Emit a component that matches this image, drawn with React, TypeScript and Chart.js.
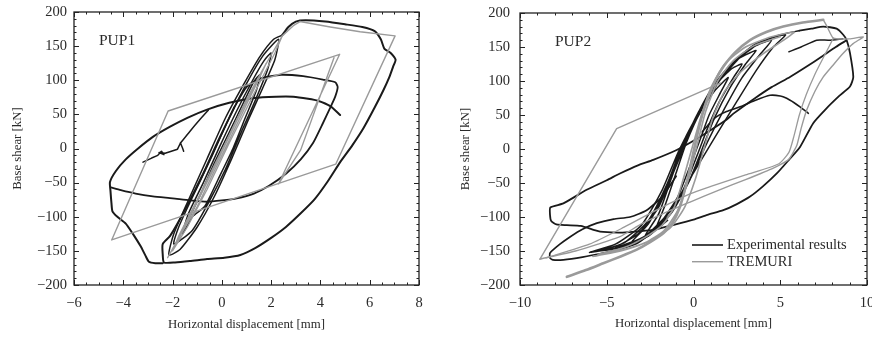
import React, { useEffect, useRef } from "react";
import { Chart, registerables } from "chart.js";
Chart.register(...registerables);

type Pt = [number, number];

const SERIF = "'Liberation Serif', 'Times New Roman', 'DejaVu Serif', serif";
const BLACK = "#1a1a1a";
const GRAY = "#9a9a9a";
const TEXT = "#2a2a2a";

// ---------- PUP1 ----------
const p1XTicks = [-6, -4, -2, 0, 2, 4, 6, 8];
const p1YTicks = [-200, -150, -100, -50, 0, 50, 100, 150, 200];

const p1ExpBand: Pt[] = [
  [-1.3, -100], [-0.9, -70], [-0.35, -25], [0.25, 20], [0.85, 65], [1.3, 98], [1.55, 108],
  [1.4, 85], [0.95, 45], [0.45, 0], [-0.15, -45], [-0.7, -85], [-1.2, -100],
  [-1.6, -125], [-1.35, -95], [-0.75, -50], [-0.1, 2], [0.6, 55], [1.25, 100], [1.7, 128], [2.0, 140],
  [1.85, 115], [1.35, 70], [0.8, 25], [0.15, -30], [-0.55, -80], [-1.2, -120], [-1.95, -140],
  [-1.75, -115], [-1.15, -68], [-0.45, -15], [0.3, 45], [1.0, 95], [1.65, 135], [2.3, 160],
  [2.15, 130], [1.65, 88], [1.05, 40], [0.4, -15], [-0.3, -70], [-1.0, -115], [-1.7, -148], [-2.15, -156],
  [-1.95, -125], [-1.35, -75], [-0.6, -15], [0.15, 45], [0.9, 95], [1.55, 135], [2.1, 160], [2.45, 166],
];
const p1ExpOuter: Pt[] = [
  [2.45, 166], [2.7, 178], [3.0, 186], [3.4, 188], [4.2, 186], [5.0, 182], [5.7, 178], [6.2, 172],
  [6.45, 160], [6.6, 146], [6.85, 140], [7.05, 130], [6.95, 120], [6.8, 105], [6.55, 85], [6.2, 60],
  [5.75, 30], [5.3, 5], [4.8, -20], [4.3, -48], [3.75, -75], [3.2, -95], [2.6, -115], [2.0, -131],
  [1.35, -146], [0.75, -156], [0.1, -160], [-0.6, -162], [-1.3, -165], [-1.9, -167], [-2.35, -167],
  [-2.4, -155], [-2.4, -140], [-2.1, -128], [-1.5, -90], [-0.8, -40], [-0.1, 15], [0.5, 60],
];
const p1ExpMid: Pt[] = [
  [0.5, 60], [1.0, 90], [1.6, 103], [2.4, 108], [3.3, 106], [4.1, 101], [4.6, 97], [4.7, 90],
  [4.6, 76], [4.4, 60], [4.1, 37], [3.7, 8], [3.2, -16], [2.6, -37], [1.9, -55], [1.3, -66],
  [0.6, -73], [0.0, -76], [-0.6, -78], [-1.3, -76], [-2.0, -73], [-2.8, -70], [-3.5, -66],
  [-4.1, -61], [-4.5, -57],
];
const p1ExpLeft: Pt[] = [
  [-2.4, -168], [-2.7, -168], [-2.96, -166], [-3.1, -157], [-3.3, -143], [-3.63, -124], [-3.9, -110],
  [-4.24, -100], [-4.44, -92], [-4.48, -80], [-4.52, -62], [-4.54, -49], [-4.3, -33], [-3.9, -16],
  [-3.4, 0], [-2.8, 17], [-2.1, 32], [-1.4, 45], [-0.6, 57], [0.3, 67], [1.3, 74], [2.2, 76],
  [2.9, 76], [3.5, 73], [3.9, 70], [4.4, 62], [4.8, 49],
];
const p1ExpJag: Pt[] = [
  [-3.2, -20], [-2.85, -14], [-2.6, -10], [-2.45, -4], [-2.35, -9], [-2.55, -6], [-2.3, -7],
  [-2.05, -4], [-1.8, -1], [-1.68, 8], [-1.6, 1], [-1.55, -4],
];
const p1ExpJag2: Pt[] = [[-1.68, 8], [-1.3, 25], [-0.9, 42], [-0.55, 56]];

const p1TreOuter: Pt[] = [
  [2.45, 165], [2.9, 180], [3.17, 186], [4.4, 178], [5.61, 171], [7.03, 165], [4.62, -23],
  [-4.47, -134], [-2.18, 55], [4.78, 138], [2.3, -52], [3.2, -2], [4.55, 133],
];
const p1TreBand: Pt[] = [
  [-2.2, -160], [-1.3, -100], [-0.4, -35], [0.6, 40], [1.6, 112], [2.45, 165], [2.15, 140],
  [1.3, 80], [0.3, 8], [-0.6, -60], [-1.4, -115], [-2.0, -150], [-1.75, -128], [-0.9, -68],
  [0.1, 5], [1.0, 72], [1.8, 125], [1.55, 105], [0.7, 42], [-0.2, -25], [-1.0, -85], [-2.2, -160],
];

// ---------- PUP2 ----------
const p2XTicks = [-10, -5, 0, 5, 10];
const p2YTicks = [-200, -150, -100, -50, 0, 50, 100, 150, 200];

const p2ExpBand: Pt[] = [
  [-2.2, -118], [-1.6, -80], [-1.0, -35], [-0.4, 10], [0.4, 55], [1.2, 85], [2.0, 105],
  [1.6, 85], [0.9, 50], [0.4, 15], [-0.2, -25], [-0.9, -70], [-1.8, -105], [-2.8, -128],
  [-2.0, -95], [-1.3, -45], [-0.6, 5], [0.3, 55], [1.3, 95], [2.2, 118], [2.8, 125],
  [2.3, 105], [1.5, 70], [0.8, 30], [0.2, -10], [-0.6, -60], [-1.6, -100], [-2.6, -125], [-3.6, -138],
  [-2.6, -110], [-1.6, -60], [-0.8, -5], [0.2, 50], [1.2, 95], [2.3, 128], [3.6, 145],
  [3.0, 125], [2.1, 90], [1.2, 45], [0.5, 0], [-0.3, -50], [-1.3, -95], [-2.6, -128], [-4.5, -145],
  [-3.2, -125], [-2.0, -85], [-1.0, -25], [0.0, 35], [1.2, 90], [2.5, 130], [3.6, 152], [4.5, 160],
  [3.8, 138], [2.8, 105], [1.8, 60], [0.8, 10], [-0.2, -45], [-1.3, -95], [-2.8, -130], [-4.2, -145], [-5.5, -150],
  [-4.0, -138], [-2.6, -105], [-1.5, -50], [-0.5, 15], [0.8, 75], [2.2, 125], [3.6, 155], [5.3, 168],
  [4.6, 150], [3.6, 115], [2.5, 70], [1.3, 20], [0.0, -35], [-1.3, -90], [-2.8, -128], [-4.5, -145], [-6.0, -152],
  [-4.5, -140], [-3.0, -112], [-1.8, -60], [-0.8, 0], [0.5, 60], [2.0, 118], [3.5, 152], [5.0, 168], [6.1, 174],
];
const p2ExpOuter: Pt[] = [
  [6.1, 174], [6.8, 177], [7.48, 180], [8.25, 177], [8.63, 168], [8.83, 160], [9.02, 141], [9.21, 106],
  [9.02, 92], [8.4, 78], [7.6, 58], [6.9, 38], [6.14, 3], [5.5, -16], [4.8, -36], [4.0, -55],
  [3.26, -70], [2.5, -81], [1.72, -90], [0.8, -97], [0.0, -104], [-1.2, -112], [-2.32, -119],
  [-3.2, -121], [-4.2, -123], [-5.2, -122], [-5.6, -120], [-6.5, -113], [-7.3, -112], [-7.9, -111],
  [-8.2, -106], [-8.27, -97], [-8.25, -86], [-7.5, -80], [-6.16, -60], [-5.0, -46], [-4.24, -36],
  [-3.2, -24], [-2.32, -16], [-0.97, -1.5], [0.0, 12], [1.0, 28], [1.9, 43], [2.3, 52], [3.5, 74],
  [4.5, 91], [5.56, 106], [6.5, 121], [7.4, 136], [8.2, 150], [8.83, 160],
];
const p2ExpLeft: Pt[] = [
  [-1.5, -105], [-2.5, -125], [-3.27, -139], [-4.2, -147], [-5.2, -153], [-6.4, -159], [-7.5, -163],
  [-8.1, -163], [-8.27, -160], [-8.27, -153], [-7.7, -140], [-7.1, -129], [-6.4, -118], [-5.57, -109],
  [-4.6, -103], [-3.66, -100], [-2.7, -90], [-1.8, -70], [-1.0, -40],
];
const p2ExpEnd: Pt[] = [
  [0.5, 25], [1.2, 45], [1.9, 55], [2.68, 62], [3.5, 71], [4.41, 79], [5.0, 78], [5.37, 74.5],
  [5.8, 68], [6.14, 62], [6.62, 52.5],
];
const p2ExpTop: Pt[] = [[8.6, 162], [7.8, 160], [7.1, 160], [6.2, 150], [5.5, 143]];

const p2TreS: Pt[] = [
  [-7.3, -188], [-6.2, -178], [-5.2, -168], [-4.2, -158], [-3.27, -148], [-2.5, -137], [-1.74, -124],
  [-1.2, -108], [-0.78, -85], [-0.4, -50], [-0.05, -10], [0.3, 30], [0.6, 58], [0.95, 82], [1.3, 103],
  [1.72, 121], [2.4, 142], [3.26, 160], [4.2, 172], [5.17, 180], [6.3, 186], [7.48, 190],
];
const p2TreOuter: Pt[] = [
  [7.48, 190], [7.7, 180], [8.06, 163], [9.0, 162], [9.79, 165], [9.2, 155], [8.6, 140], [8.0, 122],
  [7.48, 106], [7.0, 85], [6.52, 57], [6.2, 30], [5.95, 5], [5.5, -15], [4.6, -28], [3.0, -45],
  [1.5, -60], [-0.2, -78], [-1.5, -92], [-3.0, -110], [-4.24, -129], [-5.5, -140], [-6.8, -150],
  [-8.85, -162],
];
const p2TrePara: Pt[] = [[-8.85, -162], [-4.43, 30], [1.54, 97]];
const p2TreRight: Pt[] = [
  [8.06, 163], [7.6, 140], [7.0, 110], [6.5, 80], [6.1, 50], [5.8, 20], [5.5, -5], [4.9, -22],
  [3.0, -38], [1.0, -55], [-0.2, -66], [-2.0, -88], [-4.0, -115], [-6.0, -140], [-8.5, -160],
];
const p2TreInner: Pt[] = [
  [-5.5, -155], [-4.0, -145], [-2.8, -130], [-1.8, -112], [-1.1, -85], [-0.6, -45], [-0.1, 0], [0.4, 45],
  [1.0, 90], [1.8, 125], [3.0, 150], [4.5, 165], [5.8, 172], [5.2, 160], [4.0, 140], [2.8, 115],
  [1.8, 85], [1.1, 45], [0.6, 0], [0.1, -45], [-0.5, -85], [-1.3, -115], [-2.5, -135], [-4.0, -148],
  [-5.8, -158], [-4.2, -150], [-2.8, -138], [-1.7, -120], [-0.9, -90], [-0.3, -45], [0.2, 5], [0.7, 55],
  [1.4, 100], [2.3, 130], [3.5, 152], [5.0, 165],
];

const legendLabels = ["Experimental results", "TREMURI"];

// ---------- helpers ----------
const toXY = (a: Pt[]) => a.map(([x, y]) => ({ x, y }));
const fmt = (v: any) => {
  const n = Number(v);
  return n < 0 ? "\u2212" + Math.abs(n) : String(n);
};

function ds(data: Pt[], color: string, width: number, tension: number) {
  return {
    data: toXY(data),
    showLine: true,
    borderColor: color,
    backgroundColor: color,
    borderWidth: width,
    pointRadius: 0,
    tension,
    fill: false,
    borderJoinStyle: "round",
    borderCapStyle: "round",
  };
}

const framePlugin = {
  id: "frame",
  afterDraw(chart: any, _a: any, o: any) {
    const { ctx, chartArea: a } = chart;
    const xs = chart.scales.x;
    const ys = chart.scales.y;
    ctx.save();
    ctx.strokeStyle = "#222";
    ctx.lineWidth = 1.3;
    ctx.strokeRect(a.left, a.top, a.right - a.left, a.bottom - a.top);
    ctx.lineWidth = 1;
    ctx.beginPath();
    const isMaj = (v: number, m: number) => Math.abs(v / m - Math.round(v / m)) < 1e-6;
    for (let v = xs.min; v <= xs.max + 1e-9; v += o.xMinor) {
      const px = Math.round(xs.getPixelForValue(v)) + 0.5;
      const len = isMaj(v, o.xMajor) ? 5 : 2.5;
      ctx.moveTo(px, a.bottom);
      ctx.lineTo(px, a.bottom - len);
      ctx.moveTo(px, a.top);
      ctx.lineTo(px, a.top + len);
    }
    for (let v = ys.min; v <= ys.max + 1e-9; v += o.yMinor) {
      const py = Math.round(ys.getPixelForValue(v)) + 0.5;
      const len = isMaj(v, o.yMajor) ? 5 : 2.5;
      ctx.moveTo(a.left, py);
      ctx.lineTo(a.left + len, py);
      ctx.moveTo(a.right, py);
      ctx.lineTo(a.right - len, py);
    }
    ctx.stroke();
    // panel label
    ctx.fillStyle = TEXT;
    ctx.font = `15.5px ${SERIF}`;
    ctx.textBaseline = "middle";
    ctx.textAlign = "left";
    ctx.fillText(o.label, a.left + o.labelDx, a.top + 29);
    if (o.legend) {
      ctx.font = `14.5px ${SERIF}`;
      const items = [
        { text: legendLabels[0], color: BLACK, w: 1.6 },
        { text: legendLabels[1], color: GRAY, w: 1.4 },
      ];
      items.forEach((it, i) => {
        const y = a.bottom - 40 + i * 16.7;
        ctx.strokeStyle = it.color;
        ctx.lineWidth = it.w;
        ctx.beginPath();
        ctx.moveTo(a.right - 175, y);
        ctx.lineTo(a.right - 144, y);
        ctx.stroke();
        ctx.fillStyle = TEXT;
        ctx.fillText(it.text, a.right - 140, y);
      });
    }
    ctx.restore();
  },
};

function makeConfig(p: any) {
  const font = { family: SERIF, size: 14.5 };
  const tfont = { family: SERIF, size: 12.8 };
  return {
    type: "scatter",
    data: { datasets: p.datasets },
    plugins: [framePlugin],
    options: {
      responsive: false,
      animation: false,
      devicePixelRatio: 1,
      events: [],
      layout: { padding: p.padding },
      plugins: {
        legend: { display: false },
        tooltip: { enabled: false },
        frame: p.frame,
      },
      scales: {
        x: {
          type: "linear",
          min: p.xMin,
          max: p.xMax,
          afterBuildTicks: (s: any) => {
            s.ticks = p.xTicks.map((v: number) => ({ value: v }));
          },
          afterFit: (s: any) => {
            s.height = 52;
            s.paddingLeft = 0;
            s.paddingRight = 0;
          },
          grid: { display: false, drawTicks: false },
          border: { display: false },
          ticks: { font, color: TEXT, padding: 9, callback: fmt, maxRotation: 0, autoSkip: false },
          title: {
            display: true,
            text: "Horizontal displacement [mm]",
            font: tfont,
            color: TEXT,
            padding: { top: 0, bottom: p.xTitlePad },
          },
        },
        y: {
          type: "linear",
          min: -200,
          max: 200,
          afterBuildTicks: (s: any) => {
            s.ticks = p.yTicks.map((v: number) => ({ value: v }));
          },
          afterFit: (s: any) => {
            s.width = p.yWidth;
            s.paddingTop = 0;
            s.paddingBottom = 0;
          },
          grid: { display: false, drawTicks: false },
          border: { display: false },
          ticks: { font, color: TEXT, padding: p.yTickPad, callback: fmt, autoSkip: false },
          title: {
            display: true,
            text: "Base shear [kN]",
            font: tfont,
            color: TEXT,
            padding: { top: p.yTitlePad, bottom: 0 },
          },
        },
      },
    },
  };
}

const cfg1 = () =>
  makeConfig({
    xMin: -6,
    xMax: 8,
    xTicks: p1XTicks,
    yTicks: p1YTicks,
    yWidth: 74,
    yTickPad: 7,
    yTitlePad: 10,
    xTitlePad: 4.5,
    padding: { left: 0, right: 17, top: 12, bottom: 0 },
    frame: { xMinor: 0.5, xMajor: 2, yMinor: 10, yMajor: 50, label: "PUP1", labelDx: 25, legend: false },
    datasets: [
      ds(p1TreBand, GRAY, 1.3, 0),
      ds(p1TreOuter, GRAY, 1.4, 0),
      ds(p1ExpBand, BLACK, 1.5, 0.2),
      ds(p1ExpOuter, BLACK, 2, 0.2),
      ds(p1ExpMid, BLACK, 1.8, 0.2),
      ds(p1ExpLeft, BLACK, 2, 0.2),
      ds(p1ExpJag, BLACK, 1.5, 0),
      ds(p1ExpJag2, BLACK, 1.5, 0.2),
    ],
  });

const cfg2 = () =>
  makeConfig({
    xMin: -10,
    xMax: 10,
    xTicks: p2XTicks,
    yTicks: p2YTicks,
    yWidth: 84,
    yTickPad: 10,
    yTitlePad: 22,
    xTitlePad: 5.5,
    padding: { left: 0, right: 5, top: 13, bottom: 0 },
    frame: { xMinor: 1, xMajor: 5, yMinor: 10, yMajor: 50, label: "PUP2", labelDx: 35, legend: true },
    datasets: [
      ds(p2TreS, GRAY, 2.6, 0.2),
      ds(p2TreOuter, GRAY, 1.4, 0.15),
      ds(p2TrePara, GRAY, 1.4, 0),
      ds(p2TreRight, GRAY, 1.3, 0.2),
      ds(p2TreInner, GRAY, 1.6, 0.2),
      ds(p2ExpBand, BLACK, 1.5, 0.2),
      ds(p2ExpOuter, BLACK, 1.8, 0.2),
      ds(p2ExpLeft, BLACK, 1.7, 0.2),
      ds(p2ExpEnd, BLACK, 1.6, 0.2),
      ds(p2ExpTop, BLACK, 1.5, 0.2),
    ],
  });

export default function App() {
  const leftRef = useRef<HTMLCanvasElement>(null);
  const rightRef = useRef<HTMLCanvasElement>(null);
  useEffect(() => {
    const c1 = new Chart(leftRef.current as HTMLCanvasElement, cfg1() as any);
    const c2 = new Chart(rightRef.current as HTMLCanvasElement, cfg2() as any);
    return () => {
      c1.destroy();
      c2.destroy();
    };
  }, []);
  return (
    <div style={{ position: "absolute", left: 0, top: 0, width: 872, height: 337, background: "#fff", overflow: "hidden" }}>
      <canvas
        ref={leftRef}
        width={436}
        height={337}
        style={{ position: "absolute", left: 0, top: 0, width: 436, height: 337 }}
      />
      <canvas
        ref={rightRef}
        width={436}
        height={337}
        style={{ position: "absolute", left: 436, top: 0, width: 436, height: 337 }}
      />
    </div>
  );
}
